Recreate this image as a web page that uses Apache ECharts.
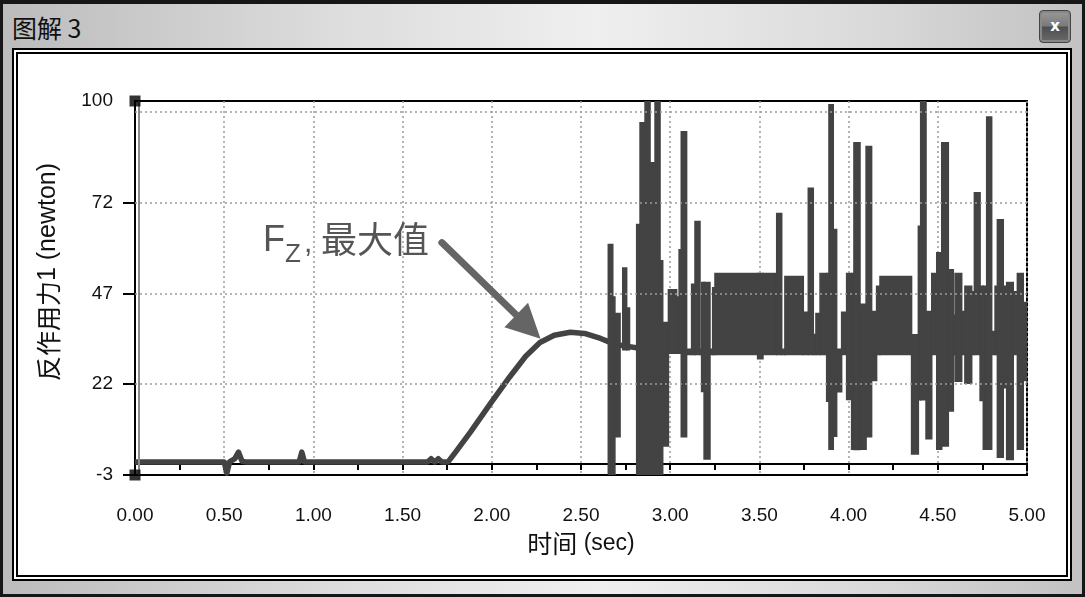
<!DOCTYPE html>
<html>
<head>
<meta charset="utf-8">
<script src="https://cdn.jsdelivr.net/npm/echarts@6/dist/echarts.min.js"></script>
<style>
html,body{margin:0;padding:0;width:1085px;height:597px;overflow:hidden;background:#161616;}
#win{position:absolute;left:3px;top:4px;width:1079px;height:590px;
  background:linear-gradient(90deg,#bcbcbc 0%,#dcdcdc 30%,#efefef 55%,#dadada 80%,#c2c2c2 100%);}
#title{position:absolute;left:9px;top:5px;font:25px "Noto Sans CJK SC",sans-serif;color:#111;}
#close{position:absolute;left:1039px;top:10px;width:30px;height:31px;border:1px solid #444;border-radius:4px;
  background:linear-gradient(180deg,#9a9a9a 0%,#7a7a7a 48%,#4e4e4e 52%,#6a6a6a 100%);
  color:#fff;font:bold 15px "DejaVu Sans",sans-serif;text-align:center;line-height:30px;box-shadow:inset 0 0 0 2px #888;}
#outer{position:absolute;left:12px;top:48px;width:1056px;height:529px;border:2px solid #000;background:#fff;}
#inner{position:absolute;left:2px;top:2px;width:1048px;height:521px;border:2px solid #000;}
#chart{position:absolute;left:0;top:0;width:1085px;height:597px;}
</style>
</head>
<body>
<div id="win"><div id="title">图解 3</div></div>
<div id="close">x</div>
<div id="outer"><div id="inner"></div></div>
<div id="chart"></div>
<script>
// ---- data ----
// smooth part of the reaction force curve (time s, force N)
const lineTime  = [0.00, 0.50, 0.515, 0.53, 0.56, 0.58, 0.60, 0.62, 0.92, 0.935, 0.95, 1.64, 1.66, 1.68, 1.70, 1.72, 1.755, 1.80, 1.88, 1.99, 2.10, 2.19, 2.27, 2.35, 2.44, 2.52, 2.61, 2.65, 2.69, 2.75, 2.82];
const lineForce = [0.6, 0.6, -2.5, 0.6, 1.5, 3.3, 0.8, 0.6, 0.6, 3.3, 0.6, 0.6, 1.5, 0.6, 1.5, 0.6, 0.6, 3.5, 8.8, 16.5, 24.0, 29.7, 33.5, 35.5, 36.3, 36.0, 34.6, 33.8, 33.0, 32.5, 32.0];
// dense vibration envelope: [tStart, tEnd, low, high]
const vibBands = [
  [2.653,2.678,-3,60.5],[2.678,2.690,-3,46],[2.690,2.719,7.5,41.5],
  [2.734,2.756,31.5,54],[2.756,2.772,31.5,43],
  [2.812,2.831,-3,66],[2.831,2.859,-3,94],[2.859,2.887,-3,100],[2.887,2.915,-3,83],
  [2.915,2.943,-3,100],[2.943,2.958,-3,56],[2.958,2.990,5,39],
  [2.990,3.036,30.5,48],[3.036,3.050,30.5,46],[3.050,3.062,30.5,59],[3.062,3.092,7.5,91.5],
  [3.092,3.120,30.2,31.6],[3.120,3.139,30.2,49.5],[3.139,3.167,30.2,66.8],[3.167,3.176,30.2,31.6],
  [3.176,3.190,20,50],[3.190,3.223,1.4,50],[3.223,3.238,30.2,31.6],[3.238,3.251,30.2,48.6],
  [3.251,3.490,30.2,52.5],[3.490,3.520,29,52.5],[3.520,3.597,30.2,52.5],[3.597,3.625,30.2,69],
  [3.625,3.643,30.2,31.6],[3.643,3.746,30.2,51.7],[3.746,3.774,30.2,41.8],[3.774,3.802,30.2,76],
  [3.802,3.817,30.2,35.7],[3.817,3.840,30.2,41.5],[3.840,3.877,30.2,52.5],[3.877,3.890,17.3,52.5],
  [3.890,3.914,4.1,99],[3.914,3.933,7.7,64.6],[3.933,3.961,19.9,31.6],[3.961,3.989,30.2,41.8],
  [3.989,4.017,17.8,52.5],[4.017,4.030,4.1,52.5],[4.030,4.064,4.0,88.5],[4.064,4.098,4.1,44],
  [4.098,4.129,7.5,87.5],[4.129,4.157,23,42],[4.157,4.176,30.2,49],[4.176,4.353,30.2,51.7],
  [4.353,4.391,2.8,35.6],[4.391,4.404,17.7,65.5],[4.404,4.434,17.7,100],[4.434,4.466,7,42],
  [4.466,4.494,30.2,52.5],[4.494,4.522,4.1,58.2],[4.522,4.559,5,88.5],[4.559,4.587,14.6,53.5],
  [4.587,4.597,30.2,41],[4.597,4.634,22.8,52.5],[4.634,4.652,30.2,42],[4.652,4.690,22.3,49],
  [4.690,4.705,30.2,47.5],[4.705,4.737,30.2,74.7],[4.737,4.755,17.5,49],[4.755,4.774,4.1,49],
  [4.774,4.802,4.1,95.6],[4.802,4.821,30.2,36.5],[4.821,4.834,30.2,49],[4.834,4.867,1.9,67.3],
  [4.867,4.886,21,49],[4.886,4.923,1.3,50],[4.923,4.946,30.2,47.5],[4.946,4.979,4.1,52.5],
  [4.979,5.005,23,44.5]
];
// axis ticks / labels
const yLabelValues = [-3, 22, 47, 72, 100];
const yTickValues  = [-3, 22, 47, 72];
const yGridValues  = [22, 47, 72, 97];
const cornerMarks  = [[0, 100], [0, -3]];
const arrowFrom = [1.72, 61.0];
const arrowTo   = [2.205, 37.8];

const chart = echarts.init(document.getElementById('chart'), null, {renderer: 'canvas'});
const FONT = 'Liberation Sans, Noto Sans CJK SC, sans-serif';
const LC = '#434343';

const option = {
  backgroundColor: 'transparent',
  animation: false,
  grid: {left: 135, right: 58, top: 101, bottom: 122, show: true, borderColor: '#000', borderWidth: 2, backgroundColor: 'transparent'},
  xAxis: {
    type: 'value', min: 0, max: 5, interval: 0.5,
    name: '{c|时间} {l|(sec)}', nameLocation: 'middle', nameGap: 56,
    nameTextStyle: {color: '#111', fontFamily: FONT, fontSize: 23, rich: {
      c: {fontSize: 25, color: '#111', fontFamily: 'Noto Sans CJK SC'},
      l: {fontSize: 23, color: '#111', fontFamily: 'Liberation Sans'}}},
    axisLine: {lineStyle: {color: '#000', width: 2}},
    axisTick: {show: true, length: 6, lineStyle: {color: '#000', width: 2}},
    minorTick: {show: true, splitNumber: 2, length: 6, lineStyle: {color: '#000', width: 2}},
    axisLabel: {margin: 31, fontSize: 19, color: '#111', fontFamily: FONT, formatter: v => v.toFixed(2)},
    splitLine: {show: true, lineStyle: {color: '#9c9c9c', width: 1.5, type: [2, 3]}}
  },
  yAxis: {
    type: 'value', min: -3, max: 100,
    name: '{c|反作用力}{l|1 (newton)}', nameLocation: 'middle', nameGap: 74, nameRotate: 90,
    nameTextStyle: {color: '#111', fontFamily: FONT, fontSize: 25, padding: [0, 0, 0, 32], rich: {
      c: {fontSize: 25, color: '#111', fontFamily: 'Noto Sans CJK SC'},
      l: {fontSize: 25, color: '#111', fontFamily: 'Liberation Sans'}}},
    axisLine: {lineStyle: {color: '#000', width: 2}},
    axisTick: {show: true, length: 12, customValues: yTickValues, lineStyle: {color: '#000', width: 2}},
    axisLabel: {margin: 22, fontSize: 19, color: '#111', fontFamily: FONT, customValues: yLabelValues},
    splitLine: {show: false}
  },
  series: [
    {
      type: 'line', data: [], z: 1, silent: true,
      markLine: {
        silent: true, symbol: 'none', label: {show: false}, animation: false,
        lineStyle: {color: '#9c9c9c', width: 1.5, type: [2, 3]},
        data: yGridValues.map(v => ({yAxis: v})).concat([
          {xAxis: 0.022, lineStyle: {color: '#8a8a8a', width: 2, type: 'solid'}}
        ])
      }
    },
    {
      type: 'line', z: 3, symbol: 'none', silent: true,
      data: lineTime.map((t, i) => [t, lineForce[i]]),
      lineStyle: {color: LC, width: 5.5, join: 'round'},
      markLine: {
        silent: true, z: 6, animation: false, label: {show: false},
        symbol: ['none', 'triangle'], symbolSize: 34,
        lineStyle: {color: '#656565', width: 7, type: 'solid', cap: 'round'},
        itemStyle: {color: '#656565'},
        data: [[{coord: arrowFrom}, {coord: arrowTo}]]
      }
    },
    {
      type: 'custom', z: 4, silent: true, clip: true,
      data: vibBands,
      encode: {x: [0, 1], y: [2, 3]},
      renderItem: function (params, api) {
        const p0 = api.coord([api.value(0), api.value(3)]);
        const p1 = api.coord([api.value(1), api.value(2)]);
        return {type: 'rect', shape: {x: p0[0], y: p0[1], width: p1[0] - p0[0], height: p1[1] - p0[1]},
          style: {fill: LC, stroke: LC, lineWidth: 1.5}};
      }
    },
    {
      type: 'scatter', z: 10, silent: true, clip: false,
      data: cornerMarks, symbol: 'rect', symbolSize: 11,
      itemStyle: {color: '#000'}
    }
  ],
  graphic: [
    {type: 'text', x: 263, y: 241, z: 20, style: {text: 'F', font: '36px "Liberation Sans"', fill: '#555', verticalAlign: 'middle'}},
    {type: 'text', x: 285, y: 255, z: 20, style: {text: 'Z', font: '26px "Liberation Sans"', fill: '#555', verticalAlign: 'middle'}},
    {type: 'text', x: 304, y: 244, z: 20, style: {text: ',', font: '30px "Liberation Sans"', fill: '#555', verticalAlign: 'middle'}},
    {type: 'text', x: 321, y: 239, z: 20, style: {text: '最大值', font: '36px "Noto Sans CJK SC"', fill: '#555', verticalAlign: 'middle'}}
  ]
};
chart.setOption(option);
</script>
</body>
</html>
